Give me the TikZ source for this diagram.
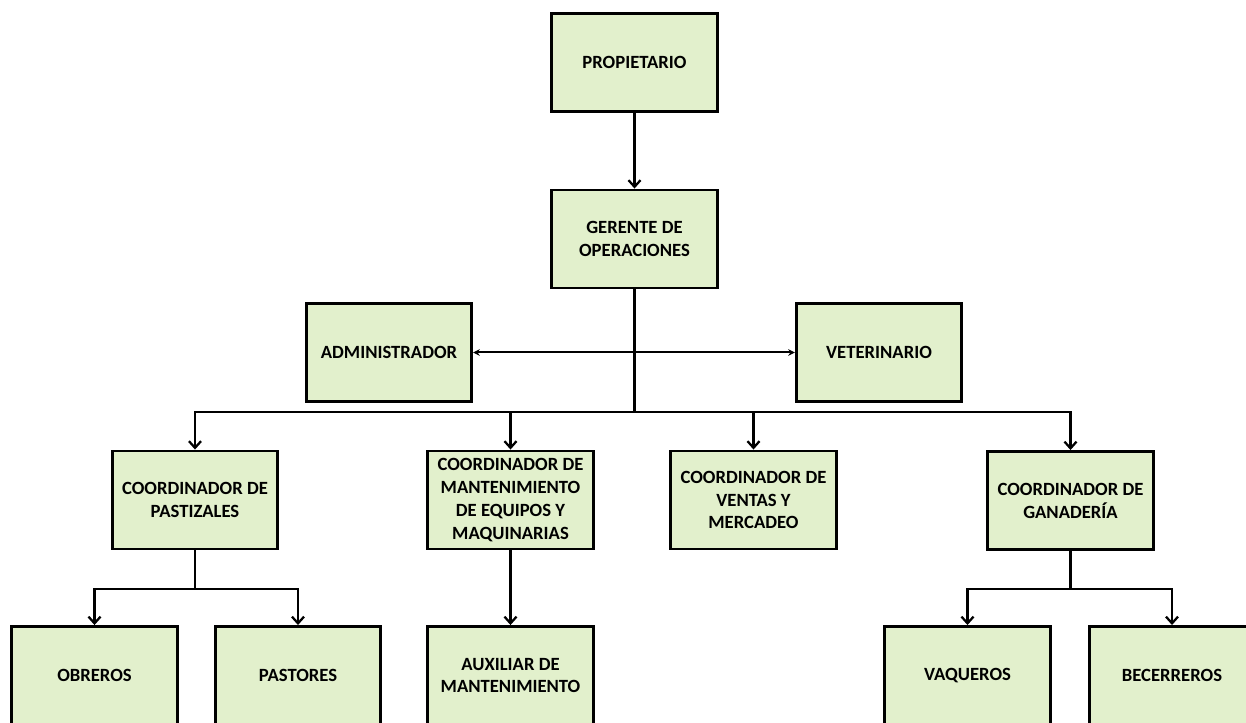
\documentclass[tikz,border=0pt]{standalone}
\usepackage{fontspec}
\setmainfont{Carlito}
\usetikzlibrary{arrows.meta}
\definecolor{boxgreen}{RGB}{226,240,204}

\begin{document}
\begin{tikzpicture}[x=0.75pt,y=0.75pt]
		\tikzstyle{every node}+=[inner sep=2pt]
		\tikzstyle{cargo}=[draw=black, line width=2.2pt, fill=boxgreen, minimum width=124pt, minimum height=73.5pt, align=center, font=\bfseries\fontsize{14}{17.2}\selectfont]
		\tikzstyle{enlace}=[line width=1.7pt, -{Straight Barb[length=5pt,width=9pt,line width=1.7pt]}]
		\useasboundingbox (0,0) rectangle (1246,-723);
		% nivel 1 y 2
		\node [cargo] (prop) at (634.5,-62.5) {PROPIETARIO};
		\node [cargo] (ger) at (634.5,-239) {GERENTE DE\\OPERACIONES};
		\node [cargo] (adm) at (389,-352.5) {ADMINISTRADOR};
		\node [cargo] (vet) at (879,-352.5) {VETERINARIO};
		% coordinadores
		\node [cargo] (cpast) at (195,-500) {COORDINADOR DE\\PASTIZALES};
		\node [cargo] (cmant) at (510.5,-500) {COORDINADOR DE\\MANTENIMIENTO\\DE EQUIPOS Y\\MAQUINARIAS};
		\node [cargo] (cvent) at (753.5,-500) {COORDINADOR DE\\VENTAS Y\\MERCADEO};
		\node [cargo] (cgan) at (1070.5,-500.5) {COORDINADOR DE\\GANADER\'IA};
		% personal
		\node [cargo] (obr) at (94.5,-675.5) {OBREROS};
		\node [cargo] (past) at (298,-675.5) {PASTORES};
		\node [cargo] (aux) at (510.5,-675.5) {AUXILIAR DE\\MANTENIMIENTO};
		\node [cargo] (vaq) at (967.5,-675.5) {VAQUEROS};
		\node [cargo] (bec) at (1172,-675.5) {BECERREROS};
		\coordinate (bus) at (634.5,-412);
		\coordinate (bpast) at (195,-589);
		\coordinate (bgan) at (1070.5,-589);
		% conexiones
		\draw [enlace] (prop.south) -- (ger.north);
		\draw [line width=1.7pt] (ger.south) -- (bus);
		\draw [line width=1.5pt, {Stealth[length=5pt,width=5pt]}-{Stealth[length=5pt,width=5pt]}] (adm.east) -- (vet.west);
		\draw [enlace] (bus) -| (cpast.north);
		\draw [enlace] (bus) -| (cmant.north);
		\draw [enlace] (bus) -| (cvent.north);
		\draw [enlace] (bus) -| (cgan.north);
		\draw [line width=1.7pt] (cpast.south) -- (bpast);
		\draw [enlace] (bpast) -| (obr.north);
		\draw [enlace] (bpast) -| (past.north);
		\draw [enlace] (cmant.south) -- (aux.north);
		\draw [line width=1.7pt] (cgan.south) -- (bgan);
		\draw [enlace] (bgan) -| (vaq.north);
		\draw [enlace] (bgan) -| (bec.north);
\end{tikzpicture}
\end{document}
